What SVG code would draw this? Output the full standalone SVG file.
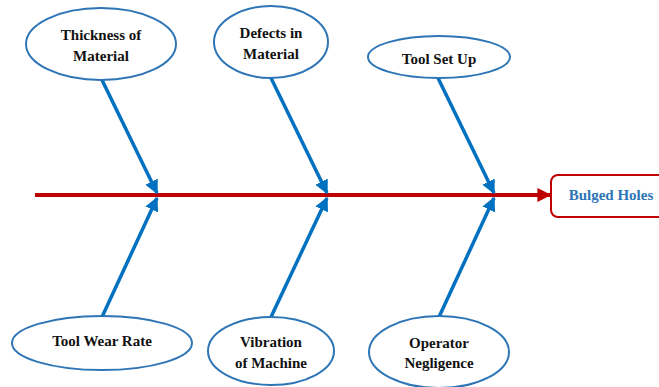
<svg xmlns="http://www.w3.org/2000/svg" width="659" height="387" viewBox="0 0 659 387">
<defs>
<marker id="ba" viewBox="0 0 10 10" refX="9" refY="5" markerWidth="4" markerHeight="4" orient="auto" markerUnits="strokeWidth"><path d="M0,0 L10,5 L0,10 z" fill="#0070C0"/></marker>
<marker id="ra" viewBox="0 0 10 10" refX="9" refY="5" markerWidth="3.5" markerHeight="4" orient="auto" markerUnits="strokeWidth"><path d="M0,0 L10,5 L0,10 z" fill="#C00000"/></marker>
<style>
.el{fill:#fff;stroke:#2E75B6;stroke-width:2}
.t{font-family:"Liberation Serif",serif;font-weight:bold;font-size:15px;fill:#111;text-anchor:middle}
.c{stroke:#0070C0;stroke-width:3.5;fill:none;marker-end:url(#ba)}
</style>
</defs>
<rect width="659" height="387" fill="#fff"/>
<g id="connectors">
<line x1="35" y1="195" x2="550" y2="195" stroke="#C00000" stroke-width="4" marker-end="url(#ra)"/>
<line class="c" x1="102" y1="80" x2="157" y2="193"/>
<line class="c" x1="271" y1="78" x2="327" y2="193"/>
<line class="c" x1="438" y1="78" x2="494" y2="193"/>
<line class="c" x1="102" y1="317" x2="157" y2="198"/>
<line class="c" x1="271" y1="317" x2="327" y2="198"/>
<line class="c" x1="439" y1="317" x2="494" y2="198"/>
</g>
<g id="effect">
<rect x="551" y="175" width="120" height="42" rx="7" fill="#fff" stroke="#C00000" stroke-width="2"/>
<text x="611" y="200" style="font-family:'Liberation Serif',serif;font-weight:bold;font-size:15px;fill:#2E75B6;text-anchor:middle">Bulged Holes</text>
</g>
<g id="thickness">
<ellipse class="el" cx="101" cy="44" rx="75" ry="36"/>
<text class="t" x="101" y="40">Thickness of</text>
<text class="t" x="101" y="61">Material</text>
</g>
<g id="defects">
<ellipse class="el" cx="271" cy="42" rx="57" ry="36"/>
<text class="t" x="271" y="38">Defects in</text>
<text class="t" x="271" y="59">Material</text>
</g>
<g id="toolsetup">
<ellipse class="el" cx="439" cy="57" rx="71" ry="21"/>
<text class="t" x="439" y="64">Tool Set Up</text>
</g>
<g id="toolwear">
<ellipse class="el" cx="102" cy="343" rx="90" ry="27"/>
<text class="t" x="102" y="346">Tool Wear Rate</text>
</g>
<g id="vibration">
<ellipse class="el" cx="271" cy="351" rx="63" ry="34"/>
<text class="t" x="271" y="347">Vibration</text>
<text class="t" x="271" y="368">of Machine</text>
</g>
<g id="operator">
<ellipse class="el" cx="439" cy="352" rx="70" ry="36"/>
<text class="t" x="439" y="348">Operator</text>
<text class="t" x="439" y="368">Negligence</text>
</g>
</svg>
